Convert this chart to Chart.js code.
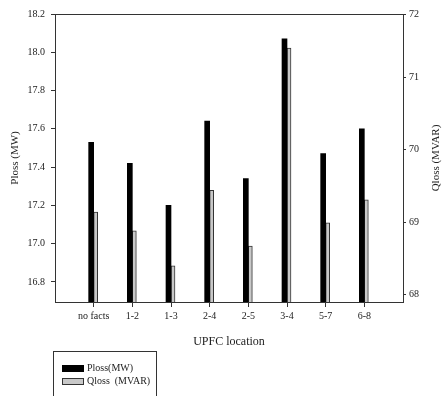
<!DOCTYPE html>
<html>
<head>
<meta charset="utf-8">
<script src="https://cdn.jsdelivr.net/npm/chart.js@4"></script>
<style>
  html, body { margin: 0; padding: 0; background: #fff; overflow: hidden; }
  #wrap { position: relative; width: 442px; height: 396px; }
  #legend {
    position: absolute; left: 53px; top: 351px; width: 104px; height: 50px;
    border: 1px solid #333; box-sizing: border-box;
    font-family: "Liberation Serif", serif; font-size: 10px; color: #222;
  }
  #legend div { position: absolute; left: 8px; height: 10px; line-height: 10px; white-space: nowrap; }
  #legend span { display: inline-block; width: 22px; height: 7px; margin-right: 3px; vertical-align: middle; box-sizing: border-box; }
</style>
</head>
<body>
<div id="wrap">
  <canvas id="lossChart" width="442" height="396"></canvas>
  <div id="legend">
    <div style="top:11px"><span style="background:#000"></span>Ploss(MW)</div>
    <div style="top:24px"><span style="background:#c8c8c8;border:1px solid #333"></span>Qloss &nbsp;(MVAR)</div>
  </div>
</div>
<script>
// data
var locations = ['no facts', '1-2', '1-3', '2-4', '2-5', '3-4', '5-7', '6-8'];
var plossMW = [17.53, 17.42, 17.20, 17.64, 17.34, 18.07, 17.47, 17.60];
var qlossMVAR = [69.14, 68.88, 68.40, 69.44, 68.67, 71.40, 68.99, 69.31];
var plossTicks = [16.8, 17.0, 17.2, 17.4, 17.6, 17.8, 18.0, 18.2];
var qlossTicks = [68, 69, 70, 71];

// pad the category axis with empty slots on each side
var labels = [''].concat(locations, ['']);
function pad(arr) { return [null].concat(arr, [null]); }

var serif = 'Liberation Serif';

// frame around the plot + right axis title drawn bottom-to-top
var framePlugin = {
    id: 'frame',
    afterDraw: function (chart) {
        var a = chart.chartArea, ctx = chart.ctx;
        ctx.save();
        ctx.strokeStyle = '#333';
        ctx.lineWidth = 1;
        ctx.strokeRect(a.left + 0.5, a.top + 0.5, a.right - a.left, a.bottom - a.top);
        ctx.translate(436, (a.top + a.bottom) / 2);
        ctx.rotate(-Math.PI / 2);
        ctx.fillStyle = '#222';
        ctx.font = '11px "' + serif + '"';
        ctx.textAlign = 'center';
        ctx.textBaseline = 'middle';
        ctx.fillText('Qloss (MVAR)', 0, 0);
        ctx.restore();
    }
};

var ctx = document.getElementById('lossChart').getContext('2d');
var lossChart = new Chart(ctx, {
    type: 'bar',
    data: {
        labels: labels,
        datasets: [{
            label: 'Ploss(MW)',
            data: pad(plossMW),
            yAxisID: 'y',
            backgroundColor: '#000',
            borderWidth: 0,
            barThickness: 5
        }, {
            label: 'Qloss (MVAR)',
            data: pad(qlossMVAR),
            yAxisID: 'y1',
            backgroundColor: '#c8c8c8',
            borderColor: '#333',
            borderWidth: 1,
            barThickness: 4
        }]
    },
    options: {
        responsive: false,
        animation: false,
        layout: { padding: { top: 14, left: 0, right: 0, bottom: 44 } },
        plugins: { legend: { display: false }, tooltip: { enabled: false } },
        scales: {
            x: {
                offset: false,
                grid: {
                    offset: false, drawOnChartArea: false, drawTicks: true, tickLength: 5,
                    color: function (c) { return labels[c.index] ? '#333' : 'rgba(0,0,0,0)'; }
                },
                border: { color: '#333' },
                ticks: { color: '#222', font: { family: serif, size: 10 }, padding: 3, maxRotation: 0, autoSkip: false },
                title: { display: true, text: 'UPFC location', color: '#222', font: { family: serif, size: 12 }, padding: { bottom: 3 } },
                afterFit: function (s) { s.height = 50; }
            },
            y: {
                position: 'left',
                min: 16.695,
                max: 18.2,
                afterBuildTicks: function (s) { s.ticks = plossTicks.map(function (v) { return { value: v }; }); },
                grid: { drawOnChartArea: false, tickLength: 4, color: '#333' },
                border: { color: '#333' },
                ticks: { color: '#222', font: { family: serif, size: 10 }, padding: 6, callback: function (v) { return v.toFixed(1); } },
                title: { display: true, text: 'Ploss (MW)', color: '#222', font: { family: serif, size: 11 }, padding: { top: 9 } },
                afterFit: function (s) { s.width = 55; }
            },
            y1: {
                position: 'right',
                min: 67.9,
                max: 71.87,
                afterBuildTicks: function (s) {
                    s.ticks = qlossTicks.concat([71.87]).map(function (v) { return { value: v }; });
                },
                grid: { drawOnChartArea: false, tickLength: 3, color: '#333' },
                border: { color: '#333' },
                ticks: { color: '#222', font: { family: serif, size: 10 }, padding: 3, callback: function (v) { return Math.round(v); } },
                afterFit: function (s) { s.width = 39; }
            }
        }
    },
    plugins: [framePlugin]
});
</script>
</body>
</html>
